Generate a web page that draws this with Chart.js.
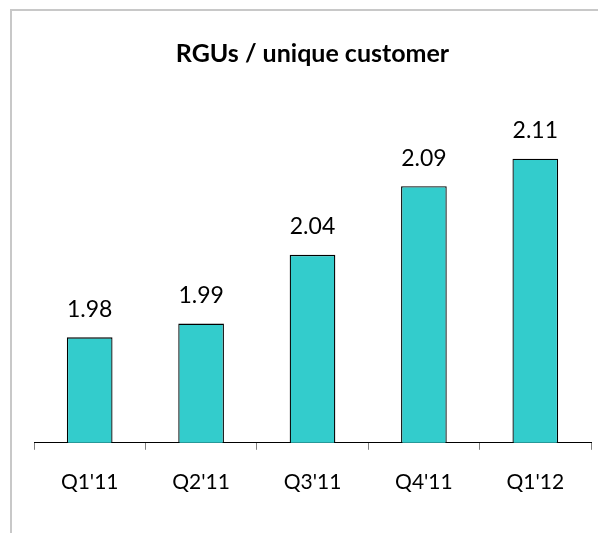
<!DOCTYPE html>
<html>
<head>
<meta charset="utf-8">
<script src="https://cdn.jsdelivr.net/npm/chart.js@4"></script>
<style>
  html, body { margin: 0; padding: 0; background: #fff; }
  #wrap { position: relative; width: 598px; height: 533px; }
  #frame { position: absolute; left: 10px; top: 9px; right: -5px; bottom: -5px;
           border-top: 2px solid #c8c8c8; border-left: 2px solid #c8c8c8; }
  canvas { position: absolute; left: 0; top: 0; }
</style>
</head>
<body>
<div id="wrap">
  <div id="frame"></div>
  <canvas id="rguChart" width="598" height="533"></canvas>
</div>
<script>
const quarters = ["Q1'11", "Q2'11", "Q3'11", "Q4'11", "Q1'12"];
const rguPerCustomer = [1.98, 1.99, 2.04, 2.09, 2.11];
const chartTitle = "RGUs / unique customer";

const FONT = "Lato, Calibri, 'Open Sans', sans-serif";

// draw the value above each bar
const barLabels = {
  id: 'barLabels',
  afterDatasetsDraw(chart) {
    const ctx = chart.ctx;
    const meta = chart.getDatasetMeta(0);
    ctx.save();
    ctx.font = "23px " + FONT;
    ctx.fillStyle = "#000";
    ctx.textAlign = "center";
    ctx.textBaseline = "middle";
    meta.data.forEach((bar, i) => {
      ctx.fillText(rguPerCustomer[i].toFixed(2), bar.x, bar.y - 28);
    });
    ctx.restore();
  }
};

const ctx = document.getElementById('rguChart').getContext('2d');
new Chart(ctx, {
  type: 'bar',
  data: {
    labels: quarters,
    datasets: [{
      data: rguPerCustomer,
      backgroundColor: '#33cccc',
      borderColor: '#000',
      borderWidth: 1.3,
      borderSkipped: 'bottom',
      categoryPercentage: 1,
      barPercentage: 0.41
    }]
  },
  options: {
    responsive: false,
    animation: false,
    layout: { padding: { left: 34, right: 7, top: 0, bottom: 18 } },
    plugins: {
      legend: { display: false },
      tooltip: { enabled: false },
      title: {
        display: true,
        text: chartTitle,
        color: '#000',
        font: { family: FONT, size: 25, weight: 'bold' },
        padding: { top: 39, bottom: 62 }
      }
    },
    scales: {
      x: {
        grid: { display: true, drawOnChartArea: false, drawTicks: true, tickLength: 7, color: '#808080', offset: true },
        border: { display: true, color: '#000', width: 1 },
        ticks: { color: '#000', font: { family: FONT, size: 21 }, padding: 20 }
      },
      y: {
        display: false,
        min: 1.9033,
        max: 2.1301
      }
    }
  },
  plugins: [barLabels]
});
</script>
</body>
</html>
